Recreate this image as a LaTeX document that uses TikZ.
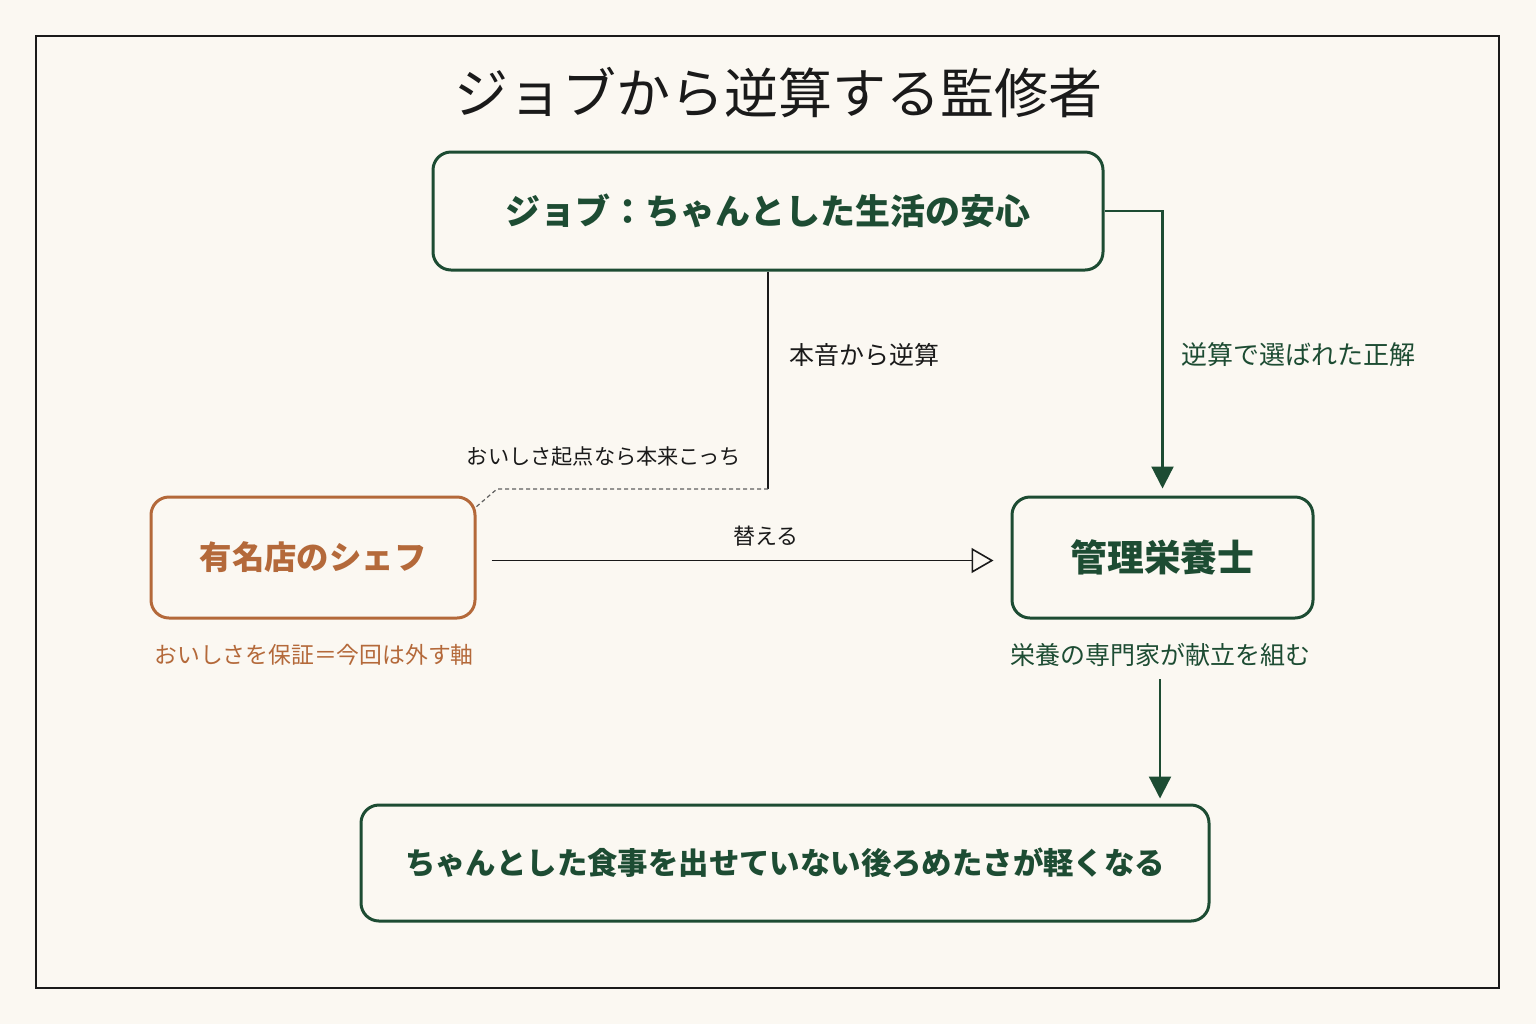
\documentclass[tikz,border=0pt]{standalone}
\usepackage{fontspec}
\setmainfont{Noto Sans CJK JP}
\usetikzlibrary{arrows.meta}
\definecolor{bg}{HTML}{FBF8F2}
\definecolor{grn}{HTML}{1D4C33}
\definecolor{org}{HTML}{B4693A}
\definecolor{ink}{HTML}{1A1A1A}
\tikzset{
  gbox/.style={draw=grn, line width=1.5pt, rounded corners=9pt, fill=bg, text=grn, font=\bfseries, align=center, inner sep=0pt},
  obox/.style={draw=org, line width=1.5pt, rounded corners=9pt, fill=bg, text=org, font=\bfseries, align=center, inner sep=0pt},
  lbl/.style={inner sep=1pt, font=\fontsize{12.5pt}{14pt}\selectfont},
  garrow/.style={draw=grn, line width=1.1pt, -{Triangle[length=11pt,width=11pt]}},
  openarrow/.style={draw=ink, line width=0.8pt, -{Triangle[open,length=11pt,width=12.5pt,fill=bg]}},
  blkline/.style={draw=ink, line width=1pt},
  dotline/.style={draw=ink!70, line width=0.6pt, dash pattern=on 2pt off 1.5pt},
}
\begin{document}
\begin{tikzpicture}[x=0.5pt,y=-0.5pt]
\fill[bg] (0,0) rectangle (1536,1024);
\useasboundingbox (0,0) rectangle (1536,1024);
\draw[ink, line width=1pt] (36,36) rectangle (1499,988);

\node[text=ink, font=\fontsize{27pt}{32pt}\selectfont] (title) at (778,93) {ジョブから逆算する監修者};

\node[gbox, minimum width=335pt, minimum height=59pt, font=\bfseries\fontsize{17.5pt}{20pt}\selectfont] (top) at (768,211) {ジョブ：ちゃんとした生活の安心};
\node[obox, minimum width=162pt, minimum height=60.5pt, font=\bfseries\fontsize{16.2pt}{19pt}\selectfont] (chef) at (313,557.5) {有名店のシェフ};
\node[gbox, minimum width=150.5pt, minimum height=60.5pt, font=\bfseries\fontsize{18.4pt}{21pt}\selectfont] (nutri) at (1162.5,557.5) {管理栄養士};
\node[gbox, minimum width=424pt, minimum height=58pt, font=\bfseries\fontsize{15.2pt}{18pt}\selectfont] (goal) at (785,863) {ちゃんとした食事を出せていない後ろめたさが軽くなる};

\node[lbl, text=org, font=\fontsize{11.4pt}{13pt}\selectfont] (chefcap) at (314,655) {おいしさを保証＝今回は外す軸};
\node[lbl, text=grn] (nutricap) at (1160,655) {栄養の専門家が献立を組む};

\node[lbl, text=ink] (l1) at (864,355) {本音から逆算};
\node[lbl, text=grn, font=\fontsize{13pt}{15pt}\selectfont] (l2) at (1298,355) {逆算で選ばれた正解};
\node[lbl, text=ink, font=\fontsize{10.6pt}{12pt}\selectfont] (l3) at (604,457) {おいしさ起点なら本来こっち};
\node[lbl, text=ink, font=\fontsize{11pt}{13pt}\selectfont] (l4) at (766,536) {替える};

\coordinate (d1) at (768,489);
\coordinate (d2) at (497,489);
\coordinate (d3) at (476,507);
\draw[blkline] (top.south) -- (d1);
\draw[dotline] (d1) -- (d2) -- (d3);

\draw[garrow, shorten >=3.5pt] (top.east) -| (nutri.north);
\draw[openarrow, shorten <=7.5pt, shorten >=8.5pt] ([yshift=-1.5pt]chef.east) -- ([yshift=-1.5pt]chef.east -| nutri.west);
\draw[garrow, shorten <=5pt, shorten >=2.5pt] (nutricap.south) -- (nutricap.south |- goal.north);
\end{tikzpicture}
\end{document}
